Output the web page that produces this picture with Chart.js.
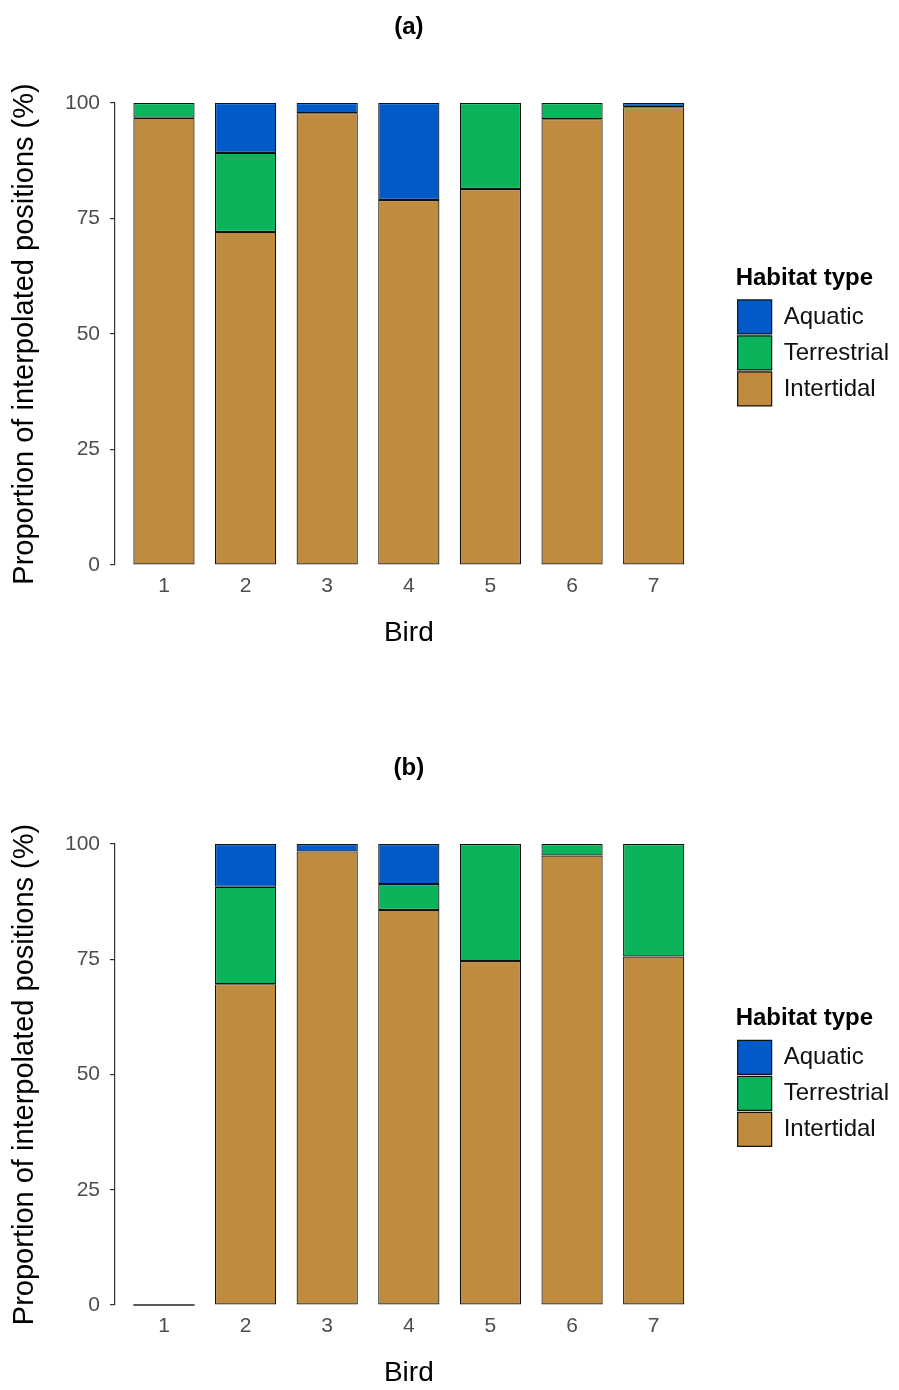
<!DOCTYPE html>
<html>
<head>
<meta charset="utf-8">
<script src="https://cdn.jsdelivr.net/npm/chart.js@4.4.1/dist/chart.umd.min.js"></script>
<style>
  body { margin: 0; background: #fff; }
  .panel { position: relative; width: 899px; }
  #panel-a { height: 741px; }
  #panel-b { height: 649px; }
</style>
</head>
<body>
<div class="panel" id="panel-a"><canvas id="chart-a"></canvas></div>
<div class="panel" id="panel-b"><canvas id="chart-b"></canvas></div>
<script>
// bird ids on the x axis
const birds = ['1', '2', '3', '4', '5', '6', '7'];
const habitats = ['Intertidal', 'Terrestrial', 'Aquatic'];
const habitatColours = ['#BF8B3F', '#0BB35A', '#005AC8'];

// panel (a), % of positions per habitat
const intertidalA = [96.8, 72.1, 97.8, 79.0, 81.4, 96.5, 99.1];
const terrestrialA = [3.2, 17.1, 0, 0, 18.6, 3.5, 0];
const aquaticA = [0, 10.8, 2.2, 21.0, 0, 0, 0.9];

// panel (b)
const intertidalB = [0, 69.6, 98.4, 85.7, 74.6, 97.5, 75.6];
const terrestrialB = [0, 21.1, 0, 5.6, 25.4, 2.5, 24.4];
const aquaticB = [0, 9.3, 1.6, 8.7, 0, 0, 0];

const yTicks = [0, 25, 50, 75, 100];

Chart.defaults.font.family = "'Liberation Sans', Arial, sans-serif";
Chart.defaults.color = '#000';

// birds with no positions still get a flat line at 0
const emptyStackLine = {
  id: 'emptyStackLine',
  afterDatasetsDraw(chart) {
    const ctx = chart.ctx;
    const y0 = chart.scales.y.getPixelForValue(0);
    chart.data.labels.forEach((label, i) => {
      const total = chart.data.datasets.reduce((sum, ds) => sum + ds.data[i], 0);
      if (total !== 0) return;
      const bar = chart.getDatasetMeta(0).data[i];
      ctx.save();
      ctx.strokeStyle = '#222';
      ctx.lineWidth = 1.5;
      ctx.beginPath();
      ctx.moveTo(bar.x - bar.width / 2, y0);
      ctx.lineTo(bar.x + bar.width / 2, y0);
      ctx.stroke();
      ctx.restore();
    });
  }
};

const createPanel = (canvasId, title, seriesList, bottomPad) => {
  const ctx = document.getElementById(canvasId).getContext('2d');

  const datasets = seriesList.map((values, i) => ({
    label: habitats[i],
    data: values,
    backgroundColor: habitatColours[i],
    borderColor: '#111',
    borderWidth: 1.2,
    borderSkipped: false
  }));

  return new Chart(ctx, {
    type: 'bar',
    data: { labels: birds, datasets: datasets },
    plugins: [emptyStackLine],
    options: {
      responsive: true,
      maintainAspectRatio: false,
      animation: false,
      categoryPercentage: 0.75,
      barPercentage: 1,
      layout: { padding: { top: 0, left: 0, right: 0, bottom: bottomPad } },
      scales: {
        x: {
          type: 'linear',
          stacked: true,
          offset: false,
          min: 0.4,
          max: 7.6,
          afterFit: s => { s.height = 85; },
          grid: { display: false, drawTicks: false, offset: false },
          border: { display: false },
          ticks: {
            stepSize: 1,
            includeBounds: false,
            padding: 9,
            color: '#4D4D4D',
            font: { size: 21 }
          },
          title: {
            display: true,
            text: 'Bird',
            color: '#000',
            font: { size: 28 },
            padding: { top: 0, bottom: 0 }
          }
        },
        y: {
          stacked: true,
          min: 0,
          max: 100,
          afterFit: s => { s.width = 115; },
          afterBuildTicks: s => { s.ticks = yTicks.map(v => ({ value: v })); },
          grid: { drawOnChartArea: false, color: '#333', tickLength: 5, lineWidth: 1.2 },
          border: { display: true, color: '#333', width: 1.2 },
          ticks: { padding: 10, color: '#4D4D4D', font: { size: 21 } },
          title: {
            display: true,
            text: 'Proportion of interpolated positions (%)',
            color: '#000',
            font: { size: 29 },
            padding: { top: 8, bottom: 0 }
          }
        },
        // spacer between the panel and the legend
        gap: {
          type: 'linear',
          position: 'right',
          afterFit: s => { s.width = 33; },
          grid: { display: false },
          border: { display: false },
          ticks: { display: false }
        }
      },
      plugins: {
        title: {
          display: true,
          text: title,
          fullSize: false,
          color: '#000',
          font: { size: 24, weight: 'bold' },
          padding: { top: 13, bottom: 61.2 }
        },
        legend: {
          position: 'right',
          reverse: true,
          maxWidth: 200,
          title: {
            display: true,
            text: 'Habitat type',
            position: 'start',
            color: '#000',
            font: { size: 24, weight: 'bold' },
            padding: { top: 24, bottom: 3 }
          },
          labels: {
            boxWidth: 34,
            boxHeight: 34,
            padding: 2,
            color: '#111',
            font: { size: 24 }
          }
        },
        tooltip: { enabled: false }
      }
    }
  });
};

createPanel('chart-a', '(a)', [intertidalA, terrestrialA, aquaticA], 91);
createPanel('chart-b', '(b)', [intertidalB, terrestrialB, aquaticB], 0);
</script>
</body>
</html>
